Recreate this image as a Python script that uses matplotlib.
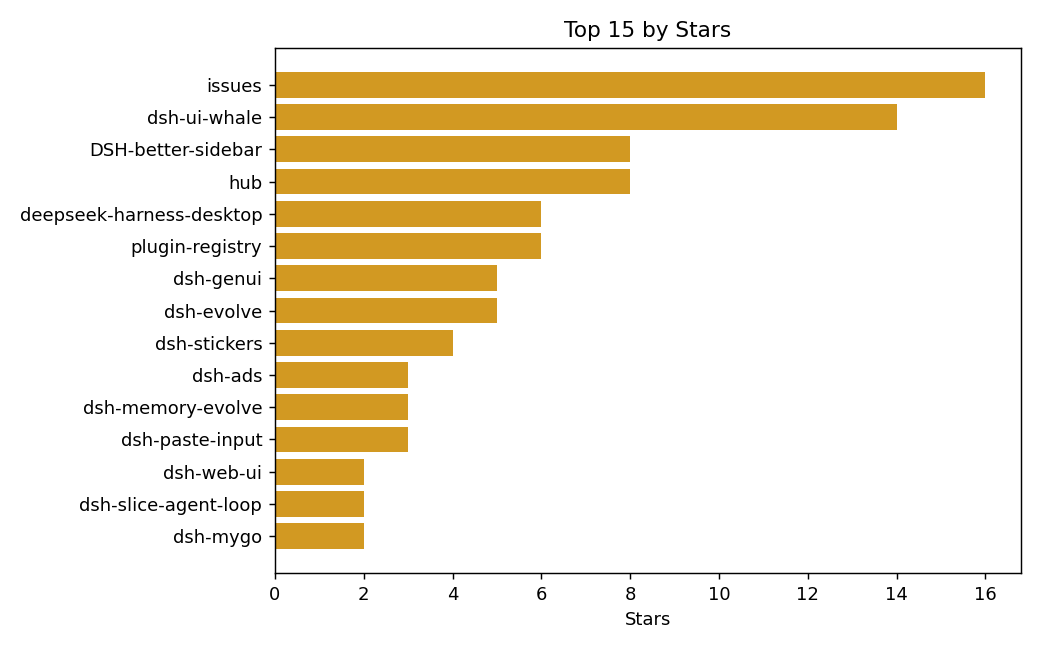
import matplotlib
matplotlib.use("Agg")
import matplotlib.pyplot as plt

names = ["issues", "dsh-ui-whale", "DSH-better-sidebar", "hub", "deepseek-harness-desktop",
         "plugin-registry", "dsh-genui", "dsh-evolve", "dsh-stickers", "dsh-ads",
         "dsh-memory-evolve", "dsh-paste-input", "dsh-web-ui", "dsh-slice-agent-loop", "dsh-mygo"]
stars = [16, 14, 8, 8, 6, 6, 5, 5, 4, 3, 3, 3, 2, 2, 2]

fig = plt.figure(figsize=(8, 5), dpi=130)
ax = fig.add_axes([275/1040, 1-573/650, (1021-275)/1040, (573-48)/650])
ax.barh(names[::-1], stars[::-1], color="#D29922")
ax.set_title("Top 15 by Stars")
ax.set_xlabel("Stars")
fig.savefig("out.png", dpi=130)
